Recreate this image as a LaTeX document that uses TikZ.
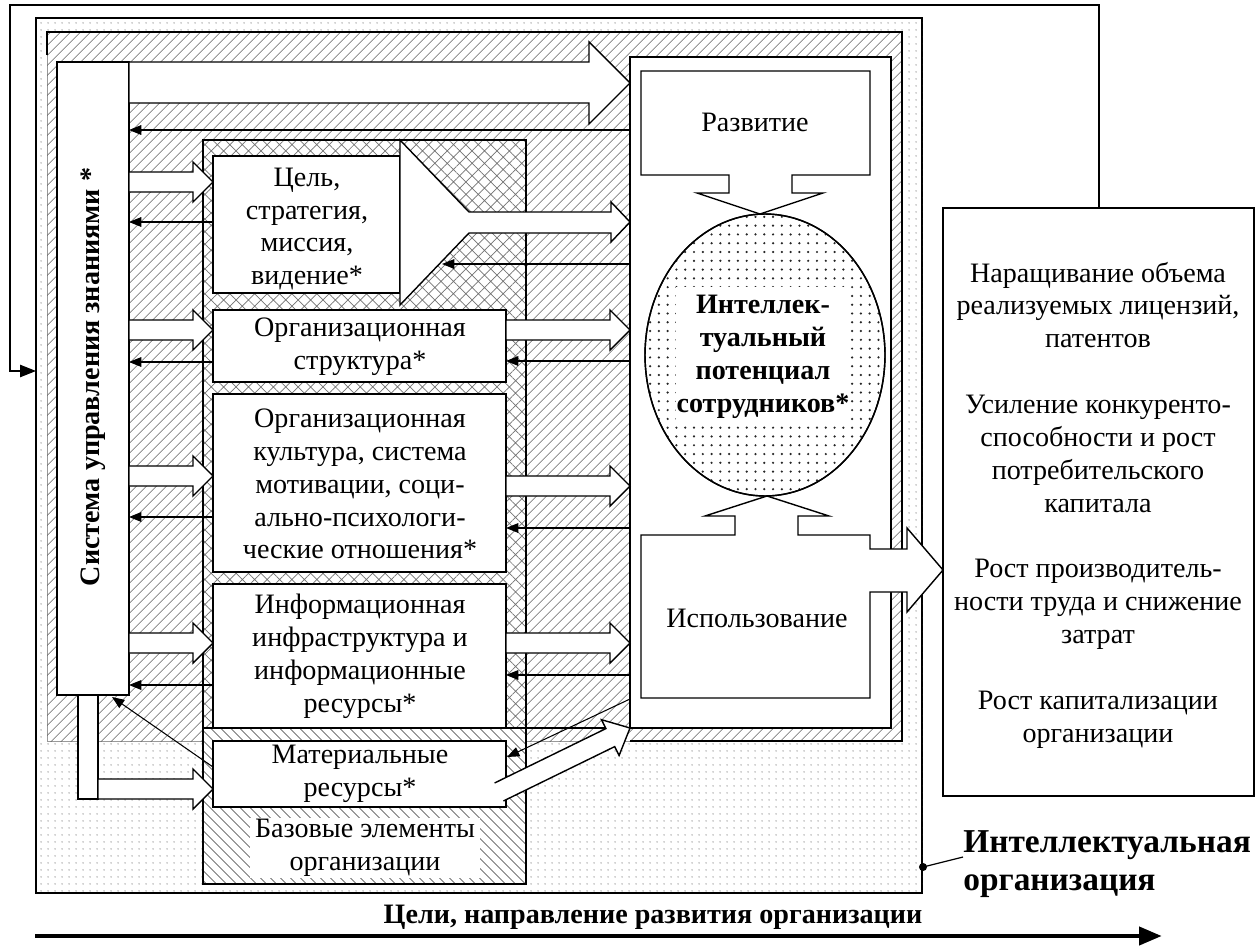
\documentclass[tikz,border=0pt]{standalone}
\usepackage{fontspec}
\setmainfont{Liberation Serif}
\usetikzlibrary{patterns.meta,arrows.meta}
\tikzset{
 ln/.style={line width=0.8pt, line join=miter},
 wbox/.style={fill=white, draw=black, line width=0.8pt, line join=miter},
 wfill/.style={fill=white, draw=none},
 ret/.style={line width=0.6pt, -{Triangle[length=7pt,width=5.5pt]}},
 txt/.style={font=\fontsize{16}{18.7}\selectfont, align=center, inner sep=0pt},
 hatchNE/.style={pattern={Lines[angle=45,distance=4pt,line width=0.45pt]}, pattern color=black!60},
 hatchNW/.style={pattern={Lines[angle=-45,distance=4pt,line width=0.45pt]}, pattern color=black!60},
 xhatch/.style={pattern={Hatch[angle=45,distance=5pt,line width=0.4pt]}, pattern color=black!55},
 ltdots/.style={pattern={Dots[distance=4pt,radius=0.5pt]}, pattern color=black!35},
 dkdots/.style={pattern={Dots[distance=5pt,radius=0.7pt]}, pattern color=black!85},
}
\newcommand{\blkarrow}[3]{%
 \draw[wbox] (#1,#3-10) -- (#2-20,#3-10) -- (#2-20,#3-20) -- (#2,#3) -- (#2-20,#3+20) -- (#2-20,#3+10) -- (#1,#3+10) -- cycle;}
\begin{document}
\begin{tikzpicture}[x=0.02cm,y=-0.02cm]
\useasboundingbox (0,0) rectangle (1258,946);
% named coordinates
\coordinate (resTop) at (1099,208);
\coordinate (sysIn) at (36,371);
% outer frame (intellectual organization)
\draw[wbox] (36,18) rectangle (922,893);
\path[ltdots] (36,18) rectangle (922,893);
\coordinate (frameDot) at (923,867);
% feedback line
\draw[line width=0.7pt, -{Triangle[length=9pt,width=7pt]}] (resTop) -- (1099,5) -- (10,5) -- (10,371) -- (sysIn);
% hatched region
\draw[fill=white, draw=black!40, line width=0.3pt] (47,32) rectangle (902,741);
\path[hatchNE] (47,32) rectangle (902,741);
\draw[ln] (47,55) -- (47,32) -- (902,32) -- (902,741) -- (630,741);
% base elements region
\draw[wbox] (203,140) rectangle (526,884);
\path[xhatch] (203,140) rectangle (526,728);
\path[hatchNW] (203,728) rectangle (526,884);
\draw[ln] (203,140) rectangle (526,884);
\draw[ln] (203,728) -- (630,728);
% container
\draw[wbox] (630,57) rectangle (891,728);
% system box
\draw[wbox] (57,62) rectangle (129,695);
% top big arrow
\draw[wbox] (129,62) -- (589,62) -- (589,42) -- (630,83) -- (589,124) -- (589,103) -- (129,103) -- cycle;
% element boxes
\draw[wbox] (213,156) rectangle (400,293);
\draw[wbox] (213,310) rectangle (506,382);
\draw[wbox] (213,394) rectangle (506,572);
\draw[wbox] (213,584) rectangle (506,728);
\draw[wbox] (213,741) rectangle (506,807);
% funnel
\draw[wbox] (400,140) -- (469,212) -- (611,212) -- (611,202) -- (630,222) -- (611,242) -- (611,233) -- (469,233) -- (400,305) -- cycle;
% L-shaped arrow to material resources
\draw[wbox] (78,695) rectangle (98,799);
\blkarrow{98}{213}{789}
% arrows from system to elements
\blkarrow{129}{213}{182}
\blkarrow{129}{213}{330}
\blkarrow{129}{213}{476}
\blkarrow{129}{213}{643}
% arrows from elements to container
\blkarrow{506}{630}{330}
\blkarrow{506}{630}{486}
\blkarrow{506}{630}{643}
% diagonal hollow arrow
\path[wfill] (494.6,783) -- (605.9,728.6) -- (601.5,719.7) -- (630,728) -- (619.1,755.5) -- (614.7,746.6) -- (503.4,801) -- cycle;
\draw[ln] (494.6,783) -- (605.9,728.6) -- (601.5,719.7) -- (630,728) -- (619.1,755.5) -- (614.7,746.6) -- (503.4,801);
% thin return arrows
\draw[ret] (630,130) -- (129,130);
\draw[ret] (630,264) -- (442,264);
\draw[ret] (630,361) -- (506,361);
\draw[ret] (630,528) -- (506,528);
\draw[ret] (630,675) -- (506,675);
\draw[ret] (630,699) -- (507,757);
\draw[ret] (213,222) -- (129,222);
\draw[ret] (213,362) -- (129,362);
\draw[ret] (213,517) -- (129,517);
\draw[ret] (213,685) -- (129,685);
\draw[ret] (213,767) -- (112,697);
% development box with down arrow
\draw[wbox] (641,71) -- (870,71) -- (870,175) -- (792,175) -- (792,193) -- (823,193) -- (760,214) -- (697,193) -- (729,193) -- (729,175) -- (641,175) -- cycle;
% usage box with up arrow and output arrow
\draw[wbox] (641,535) -- (735,535) -- (735,516) -- (705,516) -- (767,496) -- (829,516) -- (798,516) -- (798,535) -- (870,535) -- (870,549) -- (907,549) -- (907,528) -- (943,570) -- (907,612) -- (907,592) -- (870,592) -- (870,698) -- (641,698) -- cycle;
% ellipse
\draw[wbox] (765,355) ellipse [x radius=2.4cm, y radius=2.82cm];
\path[dkdots] (765,355) ellipse [x radius=2.4cm, y radius=2.82cm];
\path[wfill] (676,287) rectangle (850,423);
\draw[line width=0.8pt] (765,355) ellipse [x radius=2.4cm, y radius=2.82cm];
% results box
\draw[wbox] (943,208) rectangle (1254,796);
% texts
\node[txt, font=\fontsize{16}{18.7}\selectfont\bfseries, rotate=90] (sys) at (93,377) {Система управления знаниями *};
\node[txt] (t1) at (307,229) {Цель,\\стратегия,\\миссия,\\видение*};
\node[txt] (t2) at (360,347) {Организационная\\структура*};
\node[txt] (t3) at (360,484) {Организационная\\культура, система\\мотивации, соци-\\ально-психологи-\\ческие отношения*};
\node[txt] (t4) at (360,656) {Информационная\\инфраструктура и\\информационные\\ресурсы*};
\node[txt] (t5) at (360,774) {Материальные\\ресурсы*};
\node[txt, fill=white, inner xsep=3pt, inner ysep=1pt] (tb) at (365,848) {Базовые элементы\\организации};
\node[txt] (tdev) at (755,122) {Развитие};
\node[txt] (tuse) at (757,618) {Использование};
\node[txt, font=\fontsize{16}{18.7}\selectfont\bfseries] (tip) at (763,357) {Интеллек-\\туальный\\потенциал\\сотрудников*};
\node[txt] (tres) at (1098,505) {Наращивание объема\\реализуемых лицензий,\\патентов\\[18.7pt]Усиление конкуренто-\\способности и рост\\потребительского\\капитала\\[18.7pt]Рост производитель-\\ности труда и снижение\\затрат\\[18.7pt]Рост капитализации\\организации};
\node[txt, align=left, anchor=west, font=\fontsize{19}{21.5}\selectfont\bfseries] (tio) at (963,864) {Интеллектуальная\\организация};
\fill (frameDot) circle (2.3pt);
\draw[line width=0.7pt] (frameDot) -- (963,857);
\node[txt, font=\fontsize{16}{18}\selectfont\bfseries] (tgoal) at (653,917) {Цели, направление развития организации};
\coordinate (gA) at (35,936);
\coordinate (gB) at (1162,936);
\draw[line width=2.8pt, -{Triangle[length=13pt,width=10pt]}] (gA) -- (gB);
\end{tikzpicture}
\end{document}
